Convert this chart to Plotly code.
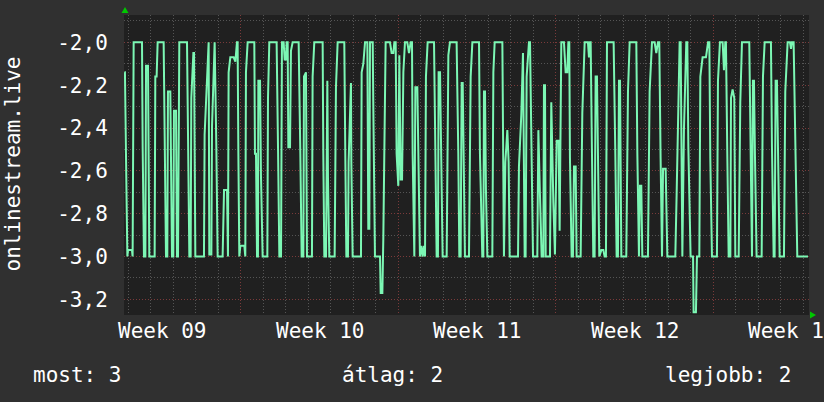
import plotly.graph_objects as go

# ---- data (time in hours from left edge, value) ----
hours = [
    0.5, 1.0, 2.1, 3.6, 4.3, 8.5, 9.2, 10.3, 19.2, 19.9, 21.3, 22.8, 23.5, 25.6, 27.0, 32.7, 33.4, 34.8, 35.9,
    42.3, 43.4, 44.8, 46.2, 46.9, 49.4, 50.5, 51.2, 52.6, 53.3, 55.5, 56.5, 57.6, 58.3, 59.0, 67.2, 68.3, 69.7,
    71.1, 71.8, 74.0, 74.7, 76.1, 85.3, 86.0, 88.5, 90.3, 91.0, 93.2, 93.9, 96.0, 96.7, 98.5, 99.9, 105.2, 106.7,
    109.9, 110.9, 111.6, 113.4, 117.0, 118.8, 120.5, 121.2,
    122.0, 123.0, 124.1, 128.4, 129.4, 130.1, 131.9, 139.0, 139.7, 140.8, 141.9, 142.9, 143.3, 145.1, 146.1,
    147.9, 152.9, 153.6, 155.0, 162.8, 164.3, 165.7, 167.5, 168.5, 170.3, 171.4, 172.8, 173.5, 174.6, 175.3,
    177.1, 178.1, 179.9, 186.3, 188.1, 189.5, 191.3, 192.0, 194.1, 195.2, 200.5, 201.2, 203.0, 211.9, 212.6,
    213.7, 215.5, 216.2, 216.9, 217.6, 219.0, 224.7, 226.1, 227.9, 235.0, 236.1, 237.2, 238.9, 239.6, 242.1,
    242.5, 243.9, 252.8, 253.5, 255.3, 257.1, 259.6, 260.6, 261.7, 262.4, 265.3, 266.0, 267.7, 273.1, 273.8,
    275.6, 276.6, 279.1, 283.7, 285.5, 287.3, 288.4, 289.8, 290.8, 292.6, 293.7, 295.1, 296.6, 298.0, 299.7,
    302.2, 304.0, 305.8, 307.2, 307.9, 309.7, 310.8, 312.9, 314.0, 315.7, 317.2, 318.6, 320.0, 321.1, 322.1,
    323.9, 330.7, 332.1, 333.5, 334.9, 335.6, 337.1, 338.1, 339.9, 344.2, 346.0, 347.7, 354.8, 356.6, 357.7,
    359.1, 360.2, 361.3, 362.3,
    363.7, 368.0, 369.8, 371.6, 378.7, 379.7, 382.2, 383.3, 384.0, 385.1, 386.1, 387.6, 392.9, 394.0, 395.4,
    403.6, 404.5, 405.3, 406.8, 408.9, 410.3, 411.4, 420.3, 421.3, 423.8, 425.6, 427.4, 428.4, 429.5, 432.0,
    433.1, 434.5, 436.3, 440.9, 442.0, 443.7, 445.5, 447.3, 448.0, 449.1, 449.8, 454.4, 455.8, 458.0, 459.7,
    461.5, 463.6, 464.7, 466.5, 469.3, 471.1, 472.9, 474.0, 475.0, 475.7, 477.5, 478.9, 480.0, 481.8, 482.8,
    487.1, 488.9, 491.4, 494.9, 496.0, 497.1, 497.8, 499.2, 500.6, 502.0, 503.1, 504.5, 505.6, 507.0, 509.2,
    511.3, 512.7, 514.1, 515.2, 522.3, 524.1, 525.5, 526.9, 528.0, 529.1, 530.5, 535.8, 537.6, 539.4, 546.5,
    547.6, 549.3, 550.4, 551.8, 552.9, 558.9, 560.7, 563.2, 566.0, 567.8, 569.6, 571.0, 572.4, 573.9, 575.0,
    577.8, 579.6, 588.1, 589.5, 592.7, 593.8, 595.6, 597.3, 599.8, 600.9, 602.0, 604.4,
    607.0, 607.6, 610.1, 611.2, 613.7, 614.8, 617.2, 620.8, 623.0, 624.4, 625.4, 627.2, 632.5, 633.6, 635.7,
    638.6, 640.0, 641.4, 642.1, 643.6, 645.0, 646.8, 647.5, 649.2, 651.0, 652.1, 655.7, 657.4, 659.2, 667.0,
    668.1, 669.9, 670.9, 672.0, 673.1, 674.8, 680.2, 681.6, 683.4, 690.1, 691.2, 693.0, 694.0, 695.1, 696.5,
    697.6, 699.4, 704.0, 705.4, 707.9, 710.4, 711.5, 712.5, 714.3, 716.1, 718.2, 729.6,
]
values = [
    -2.14, -2.14, -2.52, -3.00, -2.97, -2.97, -3.00, -2.00, -2.00, -2.49, -3.00, -3.00, -2.11, -2.11, -3.00, -3.00, -2.16, -2.16, -2.00,
    -2.00, -2.52, -3.00, -3.00, -2.23, -2.23, -2.62, -3.00, -3.00, -2.32, -2.32, -3.00, -3.00, -2.06, -2.00, -2.00, -2.54, -3.00,
    -3.00, -2.26, -2.05, -2.05, -3.00, -3.00, -2.43, -2.14, -2.00, -2.99, -2.99, -2.39, -2.00, -2.00, -2.49, -3.00, -3.00, -2.69,
    -2.69, -3.00, -2.14, -2.07, -2.07, -2.09, -2.00, -2.00,
    -2.52, -3.00, -2.95, -2.95, -3.00, -2.14, -2.00, -2.00, -2.52, -2.52, -3.00, -3.00, -2.18, -2.18, -2.62,
    -3.00, -3.00, -2.26, -2.00, -2.00, -2.49, -3.00, -3.00, -2.00, -2.00, -2.08, -2.08, -2.00, -2.00, -2.49,
    -2.49, -2.04, -2.00, -2.00, -2.52, -3.00, -3.00, -2.16, -2.14, -3.00, -3.00, -2.16, -2.00, -2.00, -2.52,
    -3.00, -3.00, -2.18, -2.18, -2.64, -3.00, -3.00, -2.21, -2.00, -2.00, -2.54, -3.00, -3.00, -2.56, -2.19,
    -2.56, -3.00, -3.00, -2.14, -2.10, -2.00, -2.00, -2.87, -2.87, -2.00, -2.00, -2.32, -3.00, -3.00, -3.17,
    -3.17, -2.92, -2.00, -2.00, -2.05, -2.05, -2.00, -2.00, -2.52, -2.67, -2.06, -2.64, -2.64, -2.14, -2.00,
    -2.00, -2.05, -2.00, -2.00, -2.52, -3.00, -2.21, -2.21, -2.62, -3.00, -2.95, -3.00, -2.95, -3.00, -2.16,
    -2.00, -2.00, -2.52, -3.00, -3.00, -2.14, -2.14, -2.52, -3.00, -3.00, -2.06, -2.00, -2.00, -2.52, -3.00,
    -3.00, -2.19, -2.19, -2.52,
    -3.00, -3.00, -2.16, -2.00, -2.00, -2.52, -3.00, -3.00, -2.23, -2.23, -2.69, -3.00, -3.00, -2.14, -2.00,
    -2.00, -2.56, -3.00, -2.56, -2.41, -2.56, -3.00, -3.00, -2.58, -2.34, -2.05, -3.00, -3.00, -2.16, -2.00,
    -2.00, -2.49, -3.00, -3.00, -2.41, -2.71, -3.00, -3.00, -2.20, -2.20, -3.00, -3.00, -2.28, -2.75, -2.99,
    -2.46, -2.46, -2.88, -2.00, -2.00, -2.14, -2.14, -2.00, -2.00, -2.54, -3.00, -3.00, -2.58, -2.58, -3.00,
    -3.00, -2.33, -2.00, -2.00, -2.07, -2.00, -2.00, -2.52, -3.00, -3.00, -2.16, -2.16, -2.54, -3.00, -2.97,
    -2.97, -3.00, -3.00, -2.00, -2.00, -2.52, -3.00, -3.00, -2.18, -2.18, -3.00, -3.00, -2.23, -2.00, -2.00,
    -2.52, -3.00, -2.67, -2.67, -3.00, -3.00, -2.23, -2.00, -2.00, -2.05, -2.00, -2.00, -2.54, -3.00, -2.59,
    -2.59, -3.00, -3.00, -2.71, -2.00, -2.00, -3.00, -2.41, -2.00, -2.00, -2.49, -3.00,
    -3.00, -3.26, -3.26, -3.00, -3.00, -2.16, -2.07, -2.07, -2.00, -2.00, -2.54, -3.00, -3.00, -2.18, -2.00,
    -2.00, -2.13, -2.00, -2.00, -2.54, -3.00, -3.00, -2.26, -2.22, -2.26, -3.00, -3.00, -2.28, -2.00, -2.00,
    -2.52, -3.00, -2.18, -2.18, -2.54, -3.00, -3.00, -2.16, -2.00, -2.00, -2.49, -3.00, -3.00, -2.18, -2.18,
    -2.52, -3.00, -3.00, -2.23, -2.00, -2.00, -2.03, -2.00, -2.00, -2.52, -3.00, -3.00,
]

y_tickvals = [-2.0, -2.2, -2.4, -2.6, -2.8, -3.0, -3.2]
y_ticktext = ["-2,0", "-2,2", "-2,4", "-2,6", "-2,8", "-3,0", "-3,2"]
week_labels = ["Week 09", "Week 10", "Week 11", "Week 12", "Week 13"]
week_label_hours = [41.5, 209.5, 377.5, 545.5, 713.5]
y_title = "onlinestream.live"
legend_items = ["most: 3", "átlag: 2", "legjobb: 2"]

FONT = "DejaVu Sans Mono"
FS = 21
BG = "#303030"
PLOT_BG = "#202020"
RED = "#7a3a3a"
GRAY = "#555555"
LINE = "#7cf7b4"

fig = go.Figure()
fig.add_trace(go.Scatter(x=hours, y=values, mode="lines",
                         line=dict(color=LINE, width=2), hoverinfo="skip"))

fig.update_layout(
    width=824, height=402,
    margin=dict(l=124, r=15, t=15, b=87),
    paper_bgcolor=BG, plot_bgcolor=PLOT_BG,
    showlegend=False,
    font=dict(family=FONT, size=FS, color="white"),
)
fig.update_xaxes(
    range=[0, 730.7], showticklabels=False, zeroline=False, showline=False,
    tickmode="linear", tick0=124.5, dtick=168, ticks="",
    showgrid=True, gridcolor=RED, griddash="1px,2px", gridwidth=1,
    minor=dict(tick0=4.5, dtick=24, showgrid=True, gridcolor=GRAY, griddash="1px,2px", gridwidth=1),
)
fig.update_yaxes(
    range=[-3.273, -1.8725], zeroline=False, showline=False,
    tickmode="array", tickvals=y_tickvals, ticktext=y_ticktext,
    ticks="outside", ticklen=0, ticklabelstandoff=11,
    tickfont=dict(family=FONT, size=FS, color="white"),
    showgrid=True, gridcolor=RED, griddash="1px,2px", gridwidth=1,
    minor=dict(tickmode="linear", tick0=-1.9, dtick=0.2, showgrid=True, gridcolor=GRAY, griddash="1px,2px", gridwidth=1),
)

W, H = 685.0, 300.0
def px2paper_x(px):
    return (px - 124) / W
def py2paper_y(py):
    return (315 - py) / H

for h, lab in zip(week_label_hours, week_labels):
    fig.add_annotation(x=h, xref="x", y=py2paper_y(331), yref="paper", text=lab,
                       showarrow=False, xanchor="center", yanchor="middle",
                       font=dict(family=FONT, size=FS, color="white"))

fig.add_annotation(x=px2paper_x(12.5), y=py2paper_y(164), xref="paper", yref="paper",
                   text=y_title, textangle=-90, showarrow=False,
                   xanchor="center", yanchor="middle",
                   font=dict(family=FONT, size=FS, color="white"))

legend_x = [31, 340, 793]
legend_anchor = ["left", "left", "right"]
for t, lx, an in zip(legend_items, legend_x, legend_anchor):
    fig.add_annotation(x=px2paper_x(lx), y=py2paper_y(375), xref="paper", yref="paper",
                       text=t, showarrow=False, xanchor=an, yanchor="middle",
                       font=dict(family=FONT, size=FS, color="white"))

# axis arrows (decoration)
fig.add_shape(type="path", xref="paper", yref="paper",
              path=f"M {px2paper_x(121.5)} {py2paper_y(13)} L {px2paper_x(128.5)} {py2paper_y(13)} L {px2paper_x(125)} {py2paper_y(7)} Z",
              fillcolor="#00c800", line=dict(width=0))
fig.add_shape(type="path", xref="paper", yref="paper",
              path=f"M {px2paper_x(810)} {py2paper_y(311.5)} L {px2paper_x(810)} {py2paper_y(318.5)} L {px2paper_x(816)} {py2paper_y(315)} Z",
              fillcolor="#00c800", line=dict(width=0))

fig.write_html("out.html", config={"displayModeBar": False},
               post_script="document.body.style.margin='0';document.body.style.overflow='hidden';")
